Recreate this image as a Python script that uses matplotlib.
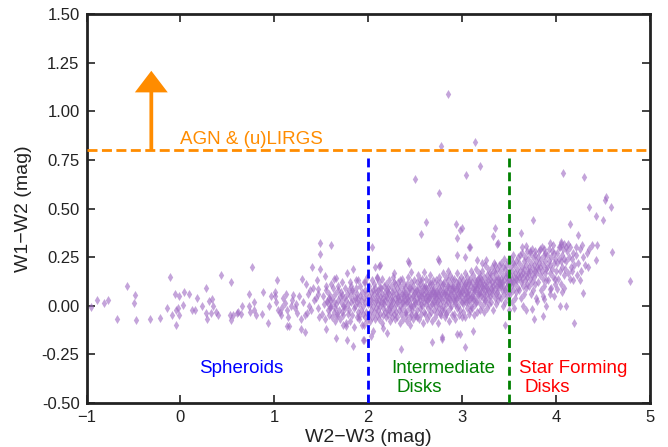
#!/usr/bin/env python3
"""WISE colour-colour diagram: W1-W2 against W2-W3 with class boundaries."""
import matplotlib
matplotlib.use("Agg")
import matplotlib.pyplot as plt

# sparse galaxies on the blue end (W2-W3 < 1)
left_points = [
    (-0.95, -0.005), (-0.89, 0.03), (-0.81, 0.015), (-0.77, 0.03), (-0.68, -0.07),
    (-0.57, 0.10), (-0.48, 0.055), (-0.49, 0.015), (-0.47, -0.075), (-0.32, -0.07),
    (-0.22, -0.065), (-0.11, 0.15), (-0.14, -0.01), (-0.09, -0.05), (-0.06, 0.06),
    (-0.01, 0.05), (-0.05, -0.02), (-0.03, -0.01), (-0.01, -0.05), (-0.05, -0.10),
    (0.035, 0.07), (0.025, 0.005), (0.095, 0.06), (0.125, -0.02), (0.155, -0.02),
    (0.175, 0.04), (0.225, 0.0), (0.275, 0.09), (0.275, -0.035), (0.285, -0.07),
    (0.305, 0.025), (0.335, 0.035), (0.345, 0.0), (0.325, -0.035), (0.375, -0.03),
    (0.405, -0.045), (0.435, 0.16), (0.535, 0.12), (0.525, -0.045), (0.555, -0.045),
    (0.535, -0.075), (0.605, -0.035),
]

# spheroid side, 0.6 < W2-W3 < 2.1
mid_points = [
    (0.76, 0.20), (0.73, 0.063), (0.78, 0.02), (0.73, 0.0), (0.78, -0.02),
    (0.74, -0.03), (0.80, -0.05), (0.66, 0.0), (0.61, -0.03), (0.65, -0.04),
    (0.88, 0.07), (0.87, -0.04), (0.93, -0.09), (0.94, 0.0), (0.96, 0.05),
    (1.01, 0.05), (1.01, 0.07), (1.03, 0.13), (1.04, -0.02), (1.07, -0.045),
    (1.08, -0.005), (1.13, -0.105), (1.16, -0.105), (1.11, 0.015), (1.14, -0.02),
    (1.18, 0.0), (1.20, 0.055), (1.23, 0.01), (1.24, -0.035), (1.28, -0.12),
    (1.33, -0.135), (1.29, 0.14), (1.28, -0.07), (1.34, 0.11), (1.38, 0.08),
    (1.40, 0.20), (1.37, 0.0), (1.35, -0.035), (1.45, 0.13), (1.46, 0.085),
    (1.42, 0.03), (1.47, -0.01), (1.49, 0.265), (1.49, 0.325), (1.60, 0.31),
    (1.49, 0.19), (1.54, 0.155), (1.55, 0.10), (1.58, 0.04), (1.56, 0.025),
    (1.59, 0.0), (1.55, -0.12), (1.63, 0.14), (1.66, 0.145), (1.68, 0.08),
    (1.65, -0.01), (1.67, -0.055), (1.66, -0.165), (1.72, 0.055), (1.74, 0.0),
    (1.73, -0.10), (1.76, -0.105), (1.77, 0.17), (1.77, -0.175), (1.81, 0.12),
    (1.83, 0.08), (1.84, 0.19), (1.87, 0.135), (1.88, 0.04), (1.90, -0.055),
    (1.84, -0.205), (1.95, -0.175), (1.95, -0.10), (1.97, 0.12), (2.04, 0.30),
    (2.09, 0.145), (2.11, 0.205), (2.03, -0.155),
    (1.02, 0.02), (1.06, -0.03), (1.09, 0.04), (1.12, 0.06), (1.15, -0.06),
    (1.19, 0.03), (1.22, -0.01), (1.26, 0.05), (1.30, 0.02), (1.33, -0.05),
    (1.36, 0.06), (1.39, -0.02), (1.41, 0.09), (1.44, 0.04), (1.48, -0.06),
    (1.47, 0.06),
]

# scattered points above and below the main sequence
stray_points = [
    (2.85, 1.087), (3.14, 0.84), (2.77, 0.82),
    (2.50, 0.65), (2.75, 0.58), (3.04, 0.67), (3.19, 0.716), (2.62, 0.43),
    (2.56, 0.37), (2.93, 0.42), (3.00, 0.40), (2.95, 0.35), (3.08, 0.30),
    (3.35, 0.40), (3.33, 0.36), (3.38, 0.325), (2.07, 0.20), (2.42, 0.23),
    (2.74, 0.24), (2.94, 0.26), (3.03, 0.25), (3.16, 0.235), (3.25, 0.235),
    (3.21, 0.22), (3.35, 0.21), (2.98, 0.39), (3.07, 0.30), (3.37, 0.32),
    (2.75, 0.23), (2.43, 0.22), (2.12, 0.21), (2.27, 0.167), (2.45, 0.175),
    (2.59, 0.175),
    (2.35, -0.22), (3.03, -0.21), (2.68, -0.185), (2.78, -0.16), (2.94, -0.145),
    (2.98, -0.145), (3.12, -0.13), (2.20, -0.14), (2.16, -0.115), (2.05, -0.13),
    (1.94, -0.176), (2.79, -0.17),
]

# star-forming end, W2-W3 > 3.4
right_points = [
    (4.07, 0.68), (4.30, 0.66), (4.53, 0.558), (4.52, 0.545), (4.58, 0.506),
    (4.35, 0.51), (4.42, 0.463), (4.50, 0.442), (4.15, 0.42), (3.75, 0.44),
    (4.23, 0.363), (3.63, 0.372), (3.64, 0.30), (3.68, 0.306), (3.94, 0.323),
    (3.87, 0.29), (3.77, 0.28), (3.72, 0.28), (4.05, 0.33), (4.08, 0.32),
    (4.11, 0.30), (4.04, 0.30), (4.21, 0.30), (4.28, 0.31), (4.38, 0.31),
    (4.44, 0.31), (4.35, 0.29), (4.60, 0.277), (4.43, 0.235), (4.34, 0.20),
    (4.79, 0.125), (4.25, 0.13), (4.29, 0.067), (4.15, 0.14), (4.06, 0.07),
    (4.11, 0.0), (4.04, 0.0), (4.19, -0.09), (3.86, -0.055), (3.76, -0.067),
    (3.89, 0.0), (3.80, 0.024), (3.74, -0.016), (3.68, -0.02), (3.98, 0.05),
    (4.01, 0.085), (3.93, 0.088), (3.87, 0.036), (3.46, -0.097),
]

# dense main sequence, 1.5 < W2-W3 < 4.35
band_points = [
    (1.51, -0.04), (1.52, 0.05), (1.53, 0.01), (1.54, -0.07), (1.55, 0.08), (1.56, 0.02),
    (1.57, -0.02), (1.58, 0.06), (1.585, -0.05), (1.59, 0.03), (1.595, -0.01), (1.60, 0.11),
    (1.605, 0.0), (1.61, -0.06), (1.615, 0.04), (1.62, 0.09), (1.63, -0.03), (1.64, 0.02),
    (1.645, -0.08), (1.65, 0.06), (1.66, 0.01), (1.67, -0.04), (1.675, 0.10), (1.68, 0.03),
    (1.69, -0.02), (1.695, 0.05),
    (1.70, -0.07), (1.705, 0.02), (1.71, 0.07), (1.715, -0.03), (1.72, 0.12), (1.73, 0.0),
    (1.735, -0.05), (1.74, 0.04), (1.75, 0.09), (1.755, -0.01), (1.76, 0.03), (1.765, -0.09),
    (1.77, 0.06), (1.78, -0.04), (1.785, 0.01), (1.79, 0.08),
    (1.80, -0.02), (1.805, 0.05), (1.81, -0.08), (1.815, 0.02), (1.82, 0.10), (1.83, -0.05),
    (1.835, 0.03), (1.84, 0.07), (1.845, -0.01), (1.85, -0.11), (1.855, 0.04), (1.86, 0.0),
    (1.87, 0.09), (1.875, -0.06), (1.88, 0.02), (1.885, 0.06), (1.89, -0.03), (1.895, 0.13),
    (1.90, 0.01), (1.905, -0.07), (1.91, 0.05), (1.915, 0.10), (1.92, -0.02), (1.925, 0.03),
    (1.93, -0.10), (1.935, 0.07), (1.94, -0.04), (1.945, 0.0), (1.95, 0.12), (1.955, 0.04),
    (1.96, -0.06), (1.965, 0.08), (1.97, 0.02), (1.975, -0.03), (1.98, 0.06), (1.985, -0.08),
    (1.99, 0.15), (1.995, 0.01),
    (2.003, 0.05), (2.008, -0.04), (2.012, 0.10), (2.015, 0.01), (2.02, -0.08), (2.024, 0.07),
    (2.028, 0.03), (2.032, -0.02), (2.036, 0.13), (2.04, 0.04), (2.044, -0.06), (2.048, 0.08),
    (2.052, 0.0), (2.056, 0.11), (2.06, -0.03), (2.064, 0.06), (2.068, 0.02), (2.072, -0.07),
    (2.076, 0.09), (2.08, 0.03), (2.084, -0.01), (2.088, 0.15), (2.092, 0.05), (2.095, -0.05),
    (2.098, 0.07), (2.10, 0.01),
    (2.103, -0.02), (2.107, 0.08), (2.11, 0.03), (2.114, -0.07), (2.118, 0.12), (2.122, 0.0),
    (2.126, 0.05), (2.13, -0.04), (2.134, 0.09), (2.138, 0.02), (2.142, -0.09), (2.146, 0.06),
    (2.15, 0.14), (2.154, -0.01), (2.158, 0.04), (2.162, -0.05), (2.166, 0.10), (2.17, 0.01),
    (2.174, 0.07), (2.178, -0.03), (2.182, 0.03), (2.186, -0.06), (2.19, 0.11), (2.193, 0.05),
    (2.196, -0.02), (2.199, 0.08), (2.152, 0.02), (2.128, 0.09),
    (2.202, 0.04), (2.206, -0.05), (2.21, 0.09), (2.213, 0.01), (2.217, -0.02), (2.221, 0.13),
    (2.225, 0.06), (2.229, -0.08), (2.233, 0.03), (2.237, 0.10), (2.241, -0.03), (2.245, 0.0),
    (2.249, 0.07), (2.253, -0.06), (2.257, 0.05), (2.261, 0.15), (2.265, 0.02), (2.269, -0.04),
    (2.273, 0.08), (2.277, -0.01), (2.281, 0.11), (2.285, 0.04), (2.289, -0.07), (2.293, 0.06),
    (2.297, 0.01), (2.215, 0.07), (2.235, 0.0), (2.255, 0.03), (2.275, 0.12), (2.295, -0.03),
    (2.302, 0.02), (2.306, 0.09), (2.31, -0.06), (2.314, 0.05), (2.318, 0.12), (2.322, -0.02),
    (2.326, 0.03), (2.33, 0.07), (2.334, -0.09), (2.338, 0.0), (2.342, 0.10), (2.346, 0.04),
    (2.35, -0.04), (2.354, 0.14), (2.358, 0.06), (2.362, -0.01), (2.366, 0.08), (2.37, 0.02),
    (2.374, -0.07), (2.378, 0.11), (2.382, 0.05), (2.386, -0.03), (2.39, 0.01), (2.394, 0.09),
    (2.398, -0.05), (2.316, 0.04), (2.336, 0.13), (2.356, 0.02), (2.376, 0.06), (2.396, 0.03),
    (2.402, 0.06), (2.405, -0.03), (2.408, 0.11), (2.412, 0.02), (2.416, -0.08), (2.42, 0.07),
    (2.424, 0.03), (2.428, 0.15), (2.432, -0.01), (2.436, 0.05), (2.44, -0.06), (2.444, 0.09),
    (2.448, 0.01), (2.452, 0.12), (2.456, -0.04), (2.46, 0.04), (2.464, 0.08), (2.468, -0.02),
    (2.472, 0.0), (2.476, 0.10), (2.48, -0.07), (2.484, 0.06), (2.488, 0.03), (2.492, 0.13),
    (2.496, -0.05), (2.499, 0.02), (2.414, 0.04), (2.434, 0.09), (2.454, 0.0), (2.474, 0.05),
    (2.494, 0.07), (2.446, -0.10),
    (2.502, 0.01), (2.506, 0.08), (2.51, -0.05), (2.514, 0.12), (2.518, 0.04), (2.522, -0.02),
    (2.526, 0.06), (2.53, 0.16), (2.534, 0.02), (2.538, -0.07), (2.542, 0.09), (2.546, 0.03),
    (2.55, -0.01), (2.554, 0.11), (2.558, 0.05), (2.562, -0.04), (2.566, 0.07), (2.57, 0.14),
    (2.574, 0.0), (2.578, 0.04), (2.582, -0.09), (2.586, 0.10), (2.59, 0.06), (2.594, -0.03),
    (2.598, 0.02), (2.516, 0.08), (2.536, 0.05), (2.556, 0.13), (2.576, 0.07), (2.596, 0.09),
    (2.524, -0.06), (2.564, 0.01),
    (2.602, 0.04), (2.605, 0.10), (2.608, -0.04), (2.612, 0.07), (2.616, 0.01), (2.62, 0.14),
    (2.624, -0.07), (2.628, 0.05), (2.632, 0.09), (2.636, -0.01), (2.64, 0.03), (2.644, 0.12),
    (2.648, -0.05), (2.652, 0.06), (2.656, 0.0), (2.66, 0.16), (2.664, 0.08), (2.668, -0.03),
    (2.672, 0.04), (2.676, 0.11), (2.68, -0.08), (2.684, 0.02), (2.688, 0.07), (2.692, 0.13),
    (2.696, -0.02), (2.699, 0.05), (2.614, 0.09), (2.634, 0.06), (2.654, 0.11), (2.674, 0.01),
    (2.694, 0.08), (2.626, 0.03), (2.646, 0.04), (2.666, 0.06),
    (2.702, 0.02), (2.705, 0.09), (2.708, -0.06), (2.712, 0.06), (2.716, 0.13), (2.72, 0.0),
    (2.724, 0.04), (2.728, -0.03), (2.732, 0.11), (2.736, 0.07), (2.74, -0.09), (2.744, 0.03),
    (2.748, 0.15), (2.752, 0.05), (2.756, -0.01), (2.76, 0.08), (2.764, 0.12), (2.768, 0.01),
    (2.772, -0.05), (2.776, 0.06), (2.78, 0.10), (2.784, 0.03), (2.788, -0.02), (2.792, 0.17),
    (2.796, 0.07), (2.799, 0.0), (2.714, 0.05), (2.734, 0.02), (2.754, 0.09), (2.774, 0.04),
    (2.794, 0.11), (2.726, 0.07), (2.746, 0.06), (2.766, -0.04),
    (2.802, 0.06), (2.805, -0.02), (2.808, 0.12), (2.812, 0.03), (2.816, 0.08), (2.82, -0.06),
    (2.824, 0.15), (2.828, 0.05), (2.832, 0.01), (2.836, 0.10), (2.84, -0.03), (2.844, 0.07),
    (2.848, 0.13), (2.852, 0.02), (2.856, -0.08), (2.86, 0.09), (2.864, 0.04), (2.868, 0.16),
    (2.872, -0.01), (2.876, 0.06), (2.88, 0.11), (2.884, 0.0), (2.888, 0.08), (2.892, -0.05),
    (2.896, 0.14), (2.899, 0.04), (2.814, 0.07), (2.834, 0.05), (2.854, 0.10), (2.874, 0.03),
    (2.894, 0.09), (2.826, -0.04), (2.846, 0.18), (2.866, 0.06),
    (2.902, 0.03), (2.905, 0.10), (2.908, -0.04), (2.912, 0.07), (2.916, 0.14), (2.92, 0.01),
    (2.924, 0.05), (2.928, -0.07), (2.932, 0.12), (2.936, 0.08), (2.94, -0.01), (2.944, 0.04),
    (2.948, 0.17), (2.952, 0.06), (2.956, 0.0), (2.96, 0.10), (2.964, -0.05), (2.968, 0.13),
    (2.972, 0.03), (2.976, 0.08), (2.98, -0.02), (2.984, 0.11), (2.988, 0.05), (2.992, 0.15),
    (2.996, 0.02), (2.999, 0.07), (2.914, 0.09), (2.934, 0.04), (2.954, 0.11), (2.974, 0.06),
    (2.994, -0.06), (2.926, 0.02), (2.946, 0.09), (2.966, 0.07),
    (3.002, 0.08), (3.005, 0.01), (3.008, 0.13), (3.012, -0.03), (3.016, 0.06), (3.02, 0.10),
    (3.024, 0.03), (3.028, 0.17), (3.032, -0.06), (3.036, 0.07), (3.04, 0.12), (3.044, 0.02),
    (3.048, 0.09), (3.052, -0.01), (3.056, 0.15), (3.06, 0.05), (3.064, 0.11), (3.068, -0.04),
    (3.072, 0.08), (3.076, 0.03), (3.08, 0.14), (3.084, 0.06), (3.088, -0.02), (3.092, 0.10),
    (3.096, 0.04), (3.099, 0.18), (3.014, 0.09), (3.034, 0.04), (3.054, 0.07), (3.074, 0.12),
    (3.094, 0.0), (3.026, 0.11), (3.046, 0.05), (3.066, 0.02),
    (3.102, 0.05), (3.105, 0.12), (3.108, -0.01), (3.112, 0.09), (3.116, 0.16), (3.12, 0.03),
    (3.124, 0.07), (3.128, -0.05), (3.132, 0.13), (3.136, 0.08), (3.14, 0.01), (3.144, 0.11),
    (3.148, 0.19), (3.152, 0.04), (3.156, 0.09), (3.16, -0.03), (3.164, 0.14), (3.168, 0.06),
    (3.172, 0.10), (3.176, 0.02), (3.18, 0.17), (3.184, 0.07), (3.188, -0.02), (3.192, 0.12),
    (3.196, 0.05), (3.199, 0.09), (3.114, 0.04), (3.134, 0.10), (3.154, 0.13), (3.174, 0.06),
    (3.194, 0.15), (3.126, 0.08), (3.146, 0.02), (3.166, 0.11),
    (3.202, 0.07), (3.205, 0.14), (3.208, 0.0), (3.212, 0.10), (3.216, 0.18), (3.22, 0.04),
    (3.224, 0.09), (3.228, -0.03), (3.232, 0.15), (3.236, 0.11), (3.24, 0.02), (3.244, 0.08),
    (3.248, 0.21), (3.252, 0.06), (3.256, 0.12), (3.26, -0.01), (3.264, 0.16), (3.268, 0.09),
    (3.272, 0.04), (3.276, 0.13), (3.28, 0.19), (3.284, 0.07), (3.288, 0.01), (3.292, 0.11),
    (3.296, 0.17), (3.299, 0.05), (3.214, 0.12), (3.234, 0.06), (3.254, 0.10), (3.274, 0.08),
    (3.294, 0.14), (3.246, 0.03),
    (3.302, 0.09), (3.306, 0.16), (3.31, 0.02), (3.314, 0.12), (3.318, 0.20), (3.322, 0.06),
    (3.326, 0.10), (3.33, -0.02), (3.334, 0.14), (3.338, 0.08), (3.342, 0.22), (3.346, 0.04),
    (3.35, 0.11), (3.354, 0.17), (3.358, 0.01), (3.362, 0.13), (3.366, 0.07), (3.37, 0.19),
    (3.374, 0.10), (3.378, 0.03), (3.382, 0.15), (3.386, 0.09), (3.39, 0.21), (3.394, 0.05),
    (3.398, 0.12), (3.316, 0.08), (3.336, 0.18), (3.356, 0.06), (3.376, 0.14), (3.396, 0.11),
    (3.402, 0.11), (3.406, 0.18), (3.41, 0.04), (3.414, 0.14), (3.418, 0.22), (3.422, 0.08),
    (3.426, 0.12), (3.43, 0.0), (3.434, 0.16), (3.438, 0.10), (3.442, 0.24), (3.446, 0.06),
    (3.45, 0.13), (3.454, 0.19), (3.458, 0.02), (3.462, 0.15), (3.466, 0.09), (3.47, 0.21),
    (3.474, 0.12), (3.478, 0.05), (3.482, 0.17), (3.486, 0.11), (3.49, 0.23), (3.494, 0.07),
    (3.498, 0.14), (3.416, 0.10), (3.436, 0.20), (3.456, 0.08), (3.476, 0.16), (3.496, -0.02),
    (3.502, 0.13), (3.506, 0.20), (3.51, 0.06), (3.514, 0.16), (3.518, 0.24), (3.522, 0.10),
    (3.526, 0.14), (3.53, 0.02), (3.534, 0.18), (3.538, 0.12), (3.542, 0.26), (3.546, 0.08),
    (3.55, 0.15), (3.554, 0.21), (3.558, 0.04), (3.562, 0.17), (3.566, 0.11), (3.57, 0.23),
    (3.574, 0.14), (3.578, 0.07), (3.582, 0.19), (3.586, 0.13), (3.59, 0.25), (3.594, 0.09),
    (3.598, 0.16), (3.516, 0.12), (3.536, 0.22), (3.556, -0.01),
    (3.602, 0.15), (3.606, 0.22), (3.61, 0.08), (3.614, 0.18), (3.618, 0.26), (3.622, 0.12),
    (3.626, 0.16), (3.63, 0.04), (3.634, 0.20), (3.638, 0.14), (3.642, 0.27), (3.646, 0.10),
    (3.65, 0.17), (3.654, 0.23), (3.658, 0.06), (3.662, 0.19), (3.666, 0.13), (3.67, 0.25),
    (3.674, 0.16), (3.678, 0.09), (3.682, 0.21), (3.686, 0.15), (3.69, 0.28), (3.694, 0.11),
    (3.698, 0.18), (3.644, 0.0),
    (3.702, 0.17), (3.706, 0.24), (3.71, 0.10), (3.714, 0.20), (3.718, 0.27), (3.722, 0.14),
    (3.726, 0.18), (3.73, 0.06), (3.734, 0.22), (3.738, 0.16), (3.742, 0.29), (3.746, 0.12),
    (3.75, 0.19), (3.754, 0.25), (3.758, 0.08), (3.762, 0.21), (3.766, 0.15), (3.77, 0.26),
    (3.774, 0.18), (3.778, 0.11), (3.782, 0.23), (3.786, 0.17), (3.79, 0.04), (3.796, 0.20),
    (3.802, 0.19), (3.807, 0.25), (3.812, 0.12), (3.817, 0.22), (3.822, 0.28), (3.827, 0.16),
    (3.832, 0.20), (3.837, 0.08), (3.842, 0.24), (3.847, 0.18), (3.852, 0.30), (3.857, 0.14),
    (3.862, 0.21), (3.867, 0.26), (3.872, 0.10), (3.877, 0.23), (3.882, 0.17), (3.887, 0.27),
    (3.892, 0.19), (3.897, 0.13), (3.86, 0.05), (3.83, 0.29),
    (3.902, 0.20), (3.908, 0.26), (3.914, 0.13), (3.92, 0.23), (3.926, 0.29), (3.932, 0.17),
    (3.938, 0.21), (3.944, 0.09), (3.95, 0.25), (3.956, 0.19), (3.962, 0.31), (3.968, 0.15),
    (3.974, 0.22), (3.98, 0.27), (3.986, 0.11), (3.992, 0.24), (3.998, 0.18), (3.93, 0.06),
    (3.96, 0.28), (3.99, 0.14),
    (4.005, 0.22), (4.012, 0.27), (4.019, 0.14), (4.026, 0.24), (4.033, 0.30), (4.04, 0.18),
    (4.047, 0.23), (4.054, 0.11), (4.061, 0.26), (4.068, 0.20), (4.075, 0.29), (4.082, 0.16),
    (4.089, 0.24), (4.096, 0.19), (4.05, 0.32), (4.085, 0.09),
    (4.105, 0.23), (4.115, 0.28), (4.125, 0.17), (4.135, 0.25), (4.145, 0.30), (4.155, 0.20),
    (4.165, 0.24), (4.175, 0.13), (4.185, 0.27), (4.195, 0.21), (4.13, 0.32), (4.17, 0.18),
    (4.21, 0.26), (4.23, 0.22), (4.25, 0.29), (4.27, 0.18), (4.29, 0.25), (4.31, 0.21),
    (4.33, 0.27), (4.22, 0.16),
]

# class boundaries (mag)
AGN_CUT = 0.8
SPHEROID_CUT = 2.0
SF_CUT = 3.5

X_TICKS = [-1, 0, 1, 2, 3, 4, 5]
Y_TICKS = [-0.5, -0.25, 0.0, 0.25, 0.5, 0.75, 1.0, 1.25, 1.5]


def main() -> None:
    plt.rcParams["font.family"] = ["Liberation Sans", "DejaVu Sans"]
    plt.rcParams["axes.unicode_minus"] = True

    fig = plt.figure(figsize=(6.68, 4.47), dpi=100)
    ax = fig.add_axes([0.1295, 0.0984, 0.8436, 0.8703])

    points = left_points + mid_points + stray_points + right_points + band_points
    xs = [p[0] for p in points]
    ys = [p[1] for p in points]
    ax.scatter(xs, ys, s=21, marker="d", color="#a06cc4", alpha=0.62,
               linewidths=0, zorder=2)

    orange = "#ff8c00"
    ax.axhline(AGN_CUT, color=orange, lw=2.0, dashes=(3.6, 1.6), zorder=3)
    ax.plot([SPHEROID_CUT, SPHEROID_CUT], [-0.5, 0.785], color="#0000ff",
            lw=2.0, dashes=(3.2, 1.8), zorder=3)
    ax.plot([SF_CUT, SF_CUT], [-0.5, 0.785], color="#008000",
            lw=2.0, dashes=(3.2, 1.8), zorder=3)

    ax.arrow(-0.31, AGN_CUT, 0, 0.408, width=0.04, head_width=0.35,
             head_length=0.111, length_includes_head=True,
             color=orange, lw=0, zorder=4)

    ax.text(0.0, 0.83, "AGN & (u)LIRGS", color=orange, fontsize=13.5)
    ax.text(0.20, -0.345, "Spheroids", color="#0000ff", fontsize=13.5)
    ax.text(2.25, -0.344, "Intermediate", color="#008000", fontsize=13.5)
    ax.text(2.30, -0.445, "Disks", color="#008000", fontsize=13.5)
    ax.text(3.605, -0.344, "Star Forming", color="#ff0000", fontsize=13.5)
    ax.text(3.66, -0.445, "Disks", color="#ff0000", fontsize=13.5)

    ax.set_xlim(-1, 5)
    ax.set_ylim(-0.5, 1.5)
    ax.set_xticks(X_TICKS)
    ax.set_yticks(Y_TICKS)
    ax.set_yticklabels([f"{v:.2f}" for v in Y_TICKS])
    ax.tick_params(direction="in", length=6, width=1.2, top=True, right=True,
                   labelsize=12, colors="#222222", pad=5)
    for spine in ax.spines.values():
        spine.set_linewidth(2.0)
        spine.set_color("#222222")

    ax.set_xlabel("W2\u2212W3 (mag)", fontsize=14, color="#222222", labelpad=3)
    ax.set_ylabel("W1\u2212W2 (mag)", fontsize=14, color="#222222", labelpad=7)

    fig.savefig("out.png", dpi=100)
    plt.close(fig)


if __name__ == "__main__":
    main()
